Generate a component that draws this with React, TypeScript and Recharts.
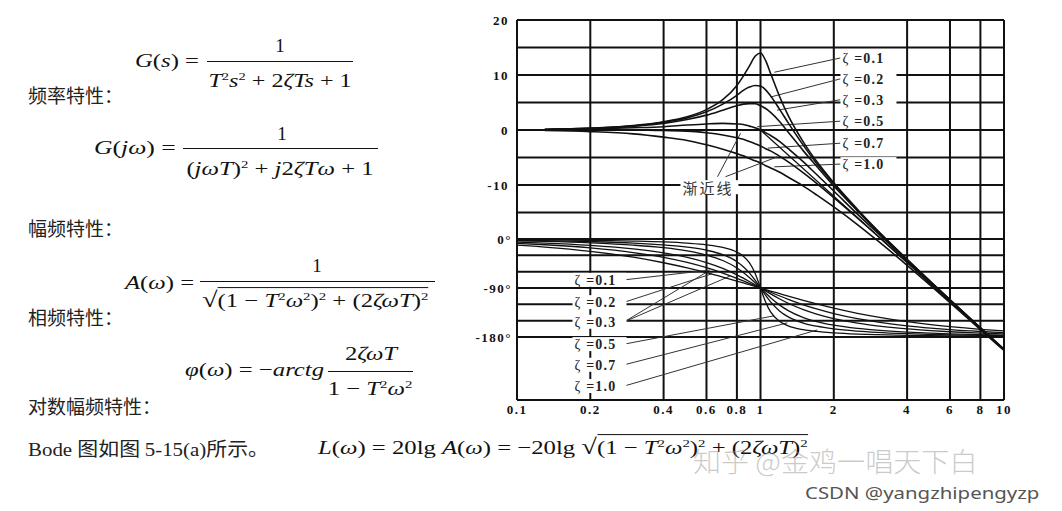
import React from "react";
import {
  ComposedChart,
  Line,
  XAxis,
  YAxis,
  ReferenceLine,
  ReferenceDot,
} from "recharts";

// frequency points (omega*T), read along the log axis
const freqs = [
  0.1, 0.13, 0.2, 0.3, 0.4, 0.5, 0.6, 0.7, 0.8, 0.85, 0.9, 0.95, 1, 1.05, 1.1,
  1.2, 1.3, 1.5, 1.7, 2, 2.5, 3, 4, 5, 6, 8, 10,
];

const zetaKeys = ["01", "02", "03", "05", "07", "10"];

// magnitude, dB (curves begin a little right of 0.1)
const magZeta01 = [null, 0.1, 0.3, 0.8, 1.5, 2.4, 3.7, 5.5, 8.1, 9.8, 11.6, 13.4, 14.0, 12.6, 10.3, 6.0, 2.6, -2.2, -5.7, -9.6, -14.4, -18.1, -23.5, -27.6, -30.9, -36.0, -39.9];
const magZeta02 = [null, 0.1, 0.3, 0.7, 1.4, 2.2, 3.3, 4.7, 6.3, 7.2, 7.8, 8.1, 8.0, 7.3, 6.2, 3.7, 1.3, -2.8, -6.1, -9.8, -14.6, -18.2, -23.6, -27.6, -30.9, -36.0, -39.9];
const magZeta03 = [null, 0.1, 0.3, 0.7, 1.2, 1.9, 2.7, 3.6, 4.4, 4.7, 4.8, 4.8, 4.4, 3.9, 3.2, 1.5, -0.4, -3.8, -6.6, -10.2, -14.7, -18.3, -23.6, -27.7, -30.9, -36.0, -39.9];
const magZeta05 = [null, 0.1, 0.2, 0.4, 0.6, 0.9, 1.1, 1.2, 1.1, 1.0, 0.7, 0.4, 0.0, -0.5, -1.0, -2.1, -3.4, -5.8, -8.1, -11.1, -15.3, -18.6, -23.8, -27.8, -31.0, -36.1, -40.0];
const magZeta07 = [null, 0.0, 0.0, 0.0, -0.1, -0.2, -0.5, -0.9, -1.4, -1.7, -2.1, -2.5, -2.9, -3.4, -3.8, -4.8, -5.8, -7.8, -9.7, -12.3, -16.0, -19.1, -24.1, -28.0, -31.1, -36.1, -40.0];
const magZeta10 = [null, -0.1, -0.3, -0.7, -1.3, -1.9, -2.7, -3.5, -4.3, -4.7, -5.2, -5.6, -6.0, -6.5, -6.9, -7.7, -8.6, -10.2, -11.8, -14.0, -17.2, -20.0, -24.6, -28.3, -31.4, -36.3, -40.1];

// phase, degrees
const phaseZeta01 = [-1.2, -1.5, -2.4, -3.8, -5.4, -7.6, -10.6, -15.4, -24.0, -31.5, -43.5, -62.8, -90, -116.0, -133.7, -151.4, -159.4, -166.5, -169.8, -172.4, -174.6, -175.7, -176.9, -177.6, -178.0, -178.5, -178.8];
const phaseZeta02 = [-2.3, -3.0, -4.8, -7.5, -10.8, -14.9, -20.6, -28.8, -41.6, -50.8, -62.2, -75.6, -90, -103.7, -115.5, -132.5, -143.0, -154.4, -160.2, -165.1, -169.2, -171.5, -173.9, -175.2, -176.1, -177.1, -177.7];
const phaseZeta03 = [-3.5, -4.5, -7.1, -11.2, -15.9, -21.8, -29.4, -39.5, -53.1, -61.4, -70.6, -80.3, -90, -99.2, -107.7, -121.4, -131.5, -144.2, -151.6, -158.2, -164.1, -167.3, -170.9, -172.9, -174.1, -175.6, -176.5];
const phaseZeta05 = [-5.8, -7.5, -11.8, -18.2, -25.5, -33.7, -43.2, -53.9, -65.8, -71.9, -78.1, -84.1, -90, -95.6, -100.8, -110.1, -118.0, -129.8, -138.0, -146.3, -154.5, -159.4, -165.1, -168.2, -170.3, -172.8, -174.2];
const phaseZeta07 = [-8.0, -10.5, -16.3, -24.8, -33.7, -43.0, -52.7, -62.5, -72.2, -76.9, -81.4, -85.8, -90, -94.0, -97.8, -104.7, -110.8, -120.8, -128.5, -137.0, -146.3, -152.3, -159.5, -163.7, -166.5, -169.9, -172.0];
const phaseZeta10 = [-11.4, -14.8, -22.6, -33.4, -43.6, -53.1, -61.9, -70.0, -77.3, -80.7, -84.0, -87.1, -90, -92.8, -95.5, -100.4, -104.9, -112.6, -119.1, -126.9, -136.4, -143.1, -151.9, -157.4, -161.1, -165.8, -168.6];

// asymptote (渐近线)
const asymFreqs = [0.13, 1, 10];
const asymMag = [0, 0, -40];

const xTicks = [0.1, 0.2, 0.4, 0.6, 0.8, 1, 2, 4, 6, 8, 10];
const magGrid = [20, 15, 10, 5, 0, -5, -10, -15];
const magTicks = [20, 10, 0, -10];
const phaseGrid = [0, -30, -60, -90, -120, -150, -180];
const phaseTickLabels: Record<string, string> = { "0": "0°", "-90": "-90°", "-180": "-180°" };

const zetaLabels = ["ζ =0.1", "ζ =0.2", "ζ =0.3", "ζ =0.5", "ζ =0.7", "ζ =1.0"];

// annotation anchors in data units: tag position and where the leader points
const magTags = [
  { w: 2.13, db: 13.1, tips: [[1.14, 10.5]] },
  { w: 2.13, db: 9.3, tips: [[1.1, 6.0]] },
  { w: 2.13, db: 5.5, tips: [[1.17, 3.6]] },
  { w: 2.13, db: 1.6, tips: [[0.97, 0.6]] },
  { w: 2.13, db: -2.4, tips: [[1.07, -3.3]] },
  { w: 2.13, db: -6.2, tips: [[1.14, -6.7]] },
];
const phaseTags = [
  { w: 0.169, deg: -75, tips: [[0.62, -57]] },
  { w: 0.169, deg: -116, tips: [[0.63, -64]] },
  { w: 0.169, deg: -152, tips: [[0.6, -61], [0.75, -68]] },
  { w: 0.169, deg: -193, tips: [[1.14, -141]] },
  { w: 0.169, deg: -231, tips: [[1.29, -154]] },
  { w: 0.169, deg: -270, tips: [[1.71, -167]] },
];
const phaseTagEnd = 0.276;
const asymTag = { w: 0.469, db: -10.4, from: [[0.666, -8.5], [0.718, -8.5]], to: [[0.828, -0.6], [1.17, -4.9]] };

const magSeries = [magZeta01, magZeta02, magZeta03, magZeta05, magZeta07, magZeta10];
const phaseSeries = [phaseZeta01, phaseZeta02, phaseZeta03, phaseZeta05, phaseZeta07, phaseZeta10];

const rows = freqs.map((w, i) => {
  const r: Record<string, number | null> = { w };
  zetaKeys.forEach((k, j) => {
    r["m" + k] = magSeries[j][i];
    r["p" + k] = phaseSeries[j][i];
  });
  return r;
});
const asymRows = asymFreqs.map((w, i) => ({ w, a: asymMag[i] }));

const serif = '"Liberation Serif", "Times New Roman", serif';
const cjk = '"Noto Sans CJK SC", sans-serif';
const ink = "#111";
const tickStyle = { fill: ink, fontSize: 13, fontWeight: 700, fontFamily: serif, letterSpacing: 1.5 };

const Tag = (props: any) => {
  const { cx, cy, text, width, cn } = props;
  return (
    <g>
      <rect x={cx} y={cy - 7} width={width} height={14} fill="#fff" />
      {cn ? (
        <text x={cx + 2} y={cy} dominantBaseline="central" fontSize={15} fontFamily={cjk} fill="#333" letterSpacing={2}>
          {text}
        </text>
      ) : (
        <text x={cx + 2} y={cy} dominantBaseline="central" fontSize={14} fontFamily={serif} fontWeight={700} fill="#222" letterSpacing={1.2}>
          <tspan fontWeight={400}>{text.slice(0, 1)}</tspan>
          <tspan>{text.slice(1)}</tspan>
        </text>
      )}
    </g>
  );
};

const Sup = ({ children }: { children: React.ReactNode }) => (
  <span style={{ fontSize: "0.6em", position: "relative", top: "-0.6em" }}>{children}</span>
);

const At = ({ x, y, center, size = 19, sx = 1, font = serif, style, children }: any) => (
  <div
    style={{
      position: "absolute",
      left: x,
      top: y,
      transform: (center ? "translate(-50%, -50%)" : "translateY(-50%)") + ` scaleX(${sx})`,
      transformOrigin: center ? "center center" : "left center",
      fontSize: size,
      lineHeight: 1,
      whiteSpace: "nowrap",
      fontFamily: font,
      color: ink,
      ...style,
    }}
  >
    {children}
  </div>
);

const Bar = ({ x1, x2, y }: { x1: number; x2: number; y: number }) => (
  <div style={{ position: "absolute", left: x1, top: y, width: x2 - x1, borderTop: "1.5px solid #111" }} />
);

const Root = ({ children }: { children: React.ReactNode }) => (
  <span>
    <span style={{ fontSize: "1.15em" }}>√</span>
    <span style={{ borderTop: "1.5px solid #111", paddingTop: 2 }}>{children}</span>
  </span>
);

const BodePlot = () => (
  <ComposedChart width={560} height={440} data={rows} margin={{ top: 20, right: 16, bottom: 10, left: 0 }}>
    <XAxis
      dataKey="w"
      type="number"
      scale="log"
      domain={[0.1, 10]}
      ticks={xTicks}
      interval={0}
      allowDataOverflow
      tickLine={false}
      tickSize={3}
      axisLine={{ stroke: ink, strokeWidth: 2 }}
      tick={tickStyle}
      height={30}
    />
    <YAxis
      yAxisId="mag"
      type="number"
      domain={[-49.1, 20]}
      ticks={magTicks}
      allowDataOverflow
      axisLine={false}
      tickLine={false}
      width={57}
      tick={tickStyle}
    />
    <YAxis yAxisId="ph" type="number" domain={[-295.7, 402.3]} allowDataOverflow hide />

    {xTicks.map((t) => (
      <ReferenceLine key={"v" + t} x={t} yAxisId="mag" stroke={ink} strokeWidth={2} />
    ))}
    {magGrid.map((v) => (
      <ReferenceLine key={"m" + v} y={v} yAxisId="mag" stroke={ink} strokeWidth={2} />
    ))}
    {phaseGrid.map((v) => (
      <ReferenceLine
        key={"p" + v}
        y={v}
        yAxisId="ph"
        stroke={ink}
        strokeWidth={2}
        label={
          phaseTickLabels[String(v)]
            ? { value: phaseTickLabels[String(v)], position: "left", offset: 5, ...tickStyle }
            : undefined
        }
      />
    ))}

    {magTags.map((t, i) =>
      t.tips.map((p, j) => (
        <ReferenceLine
          key={"ml" + i + j}
          yAxisId="mag"
          segment={[{ x: t.w, y: t.db }, { x: p[0], y: p[1] }]}
          stroke="#333"
          strokeWidth={1}
        />
      ))
    )}
    {phaseTags.map((t, i) =>
      t.tips.map((p, j) => (
        <ReferenceLine
          key={"pl" + i + j}
          yAxisId="ph"
          segment={[{ x: phaseTagEnd, y: t.deg }, { x: p[0], y: p[1] }]}
          stroke="#333"
          strokeWidth={1}
        />
      ))
    )}
    {asymTag.from.map((f, j) => (
      <ReferenceLine
        key={"al" + j}
        yAxisId="mag"
        segment={[{ x: f[0], y: f[1] }, { x: asymTag.to[j][0], y: asymTag.to[j][1] }]}
        stroke="#333"
        strokeWidth={1}
      />
    ))}

    {zetaKeys.map((k) => (
      <Line
        key={"ml" + k}
        yAxisId="mag"
        dataKey={"m" + k}
        type="monotone"
        stroke={ink}
        strokeWidth={1.6}
        dot={false}
        activeDot={false}
        isAnimationActive={false}
      />
    ))}
    {zetaKeys.map((k) => (
      <Line
        key={"pl" + k}
        yAxisId="ph"
        dataKey={"p" + k}
        type="monotone"
        stroke={ink}
        strokeWidth={1.3}
        dot={false}
        activeDot={false}
        isAnimationActive={false}
      />
    ))}
    <Line
      yAxisId="mag"
      data={asymRows}
      dataKey="a"
      type="linear"
      stroke={ink}
      strokeWidth={1.3}
      dot={false}
      activeDot={false}
      isAnimationActive={false}
    />

    {magTags.map((t, i) => (
      <ReferenceDot
        key={"mt" + i}
        yAxisId="mag"
        x={t.w}
        y={t.db}
        shape={(p: any) => <Tag cx={p.cx} cy={p.cy} text={zetaLabels[i]} width={56} />}
      />
    ))}
    {phaseTags.map((t, i) => (
      <ReferenceDot
        key={"pt" + i}
        yAxisId="ph"
        x={t.w}
        y={t.deg}
        shape={(p: any) => <Tag cx={p.cx} cy={p.cy} text={zetaLabels[i]} width={54} />}
      />
    ))}
    <ReferenceDot
      yAxisId="mag"
      x={asymTag.w}
      y={asymTag.db}
      shape={(p: any) => <Tag cx={p.cx} cy={p.cy} text="渐近线" width={58} cn />}
    />
  </ComposedChart>
);

export default function App() {
  return (
    <div
      style={{
        position: "absolute",
        left: 0,
        top: 0,
        width: 1062,
        height: 511,
        background: "#fff",
        overflow: "hidden",
      }}
    >
      {/* transfer function */}
      <At x={135} y={60} sx={1.3}>
        <i>G</i>(<i>s</i>) =
      </At>
      <At x={280} y={45} center>1</At>
      <Bar x1={207} x2={353} y={61} />
      <At x={280} y={80} center sx={1.27}>
        <i>T</i>
        <Sup>2</Sup>
        <i>s</i>
        <Sup>2</Sup> + 2<i>ζTs</i> + 1
      </At>

      <At x={28} y={94} font={cjk} style={{ color: "#222" }}>频率特性：</At>

      <At x={94} y={147} sx={1.35}>
        <i>G</i>(<i>jω</i>) =
      </At>
      <At x={282} y={133} center>1</At>
      <Bar x1={183} x2={378} y={148} />
      <At x={280} y={168} center sx={1.3}>
        (<i>jωT</i>)<Sup>2</Sup> + <i>j</i>2<i>ζTω</i> + 1
      </At>

      <At x={28} y={227} font={cjk} style={{ color: "#222" }}>幅频特性：</At>

      <At x={125} y={282} sx={1.3}>
        <i>A</i>(<i>ω</i>) =
      </At>
      <At x={317} y={265} center>1</At>
      <Bar x1={200} x2={435} y={281} />
      <At x={202} y={301} sx={1.3}>
        <Root>
          (1 − <i>T</i>
          <Sup>2</Sup>
          <i>ω</i>
          <Sup>2</Sup>)<Sup>2</Sup> + (2<i>ζωT</i>)<Sup>2</Sup>
        </Root>
      </At>

      <At x={28} y={316} font={cjk} style={{ color: "#222" }}>相频特性：</At>

      <At x={185} y={369} sx={1.3}>
        <i>φ</i>(<i>ω</i>) = −<i>arctg</i>
      </At>
      <At x={371} y={353} center sx={1.3}>
        2<i>ζωT</i>
      </At>
      <Bar x1={328} x2={413} y={371} />
      <At x={370} y={388} center sx={1.3}>
        1 − <i>T</i>
        <Sup>2</Sup>
        <i>ω</i>
        <Sup>2</Sup>
      </At>

      <At x={28} y={405} font={cjk} style={{ color: "#222" }}>对数幅频特性：</At>

      <At x={28} y={448} font={cjk} sx={1.1} style={{ color: "#222" }}>
        <span style={{ fontFamily: serif }}>Bode </span>图如图 <span style={{ fontFamily: serif }}>5-15(a)</span>所示。
      </At>

      <At x={318} y={448} sx={1.3}>
        <i>L</i>(<i>ω</i>) = 20lg <i>A</i>(<i>ω</i>) = −20lg{" "}
        <Root>
          (1 − <i>T</i>
          <Sup>2</Sup>
          <i>ω</i>
          <Sup>2</Sup>)<Sup>2</Sup> + (2<i>ζωT</i>)<Sup>2</Sup>
        </Root>
      </At>

      <div style={{ position: "absolute", left: 460, top: 0 }}>
        <BodePlot />
      </div>

      <At x={693} y={460} size={27} sx={1.04} font={cjk} style={{ color: "rgba(150,150,150,0.5)", fontWeight: 300 }}>
        知乎 @金鸡一唱天下白
      </At>
      <At x={805} y={492} size={17} sx={1.2} font='"Noto Sans", sans-serif' style={{ color: "#555" }}>
        CSDN @yangzhipengyzp
      </At>
    </div>
  );
}
